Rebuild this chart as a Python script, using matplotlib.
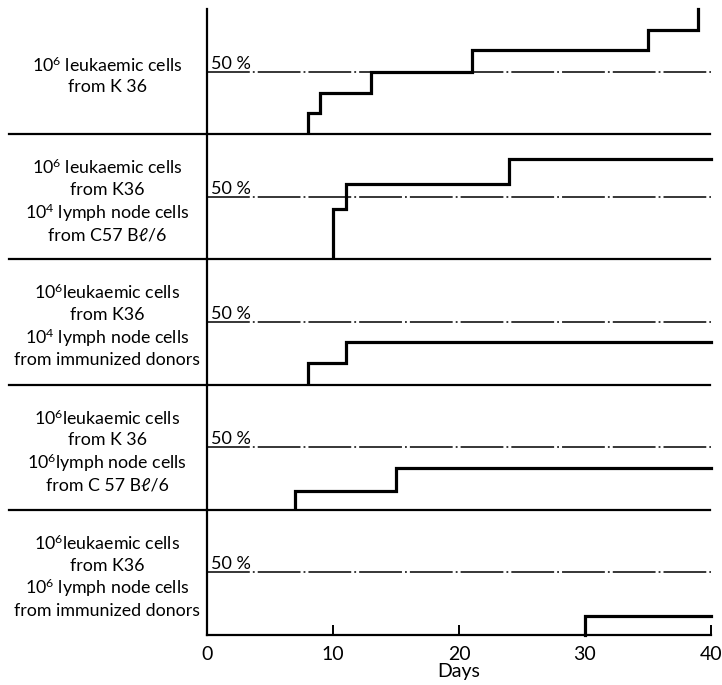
import matplotlib.pyplot as plt
from matplotlib.lines import Line2D

plt.rcParams['font.family'] = ['Lato', 'DejaVu Sans']
plt.rcParams['mathtext.fontset'] = 'custom'
plt.rcParams['mathtext.rm'] = 'Lato'

# cumulative mortality (%) per group, day of each step
groups = [
    ['10$\\mathregular{^6}$ leukaemic cells', 'from K 36'],
    ['10$\\mathregular{^6}$ leukaemic cells', 'from K36',
     '10$\\mathregular{^4}$ lymph node cells', 'from C57 B\u2113/6'],
    ['10$\\mathregular{^6}$leukaemic cells', 'from K36',
     '10$\\mathregular{^4}$ lymph node cells', 'from immunized donors'],
    ['10$\\mathregular{^6}$leukaemic cells', 'from K 36',
     '10$\\mathregular{^6}$lymph node cells', 'from C 57 B\u2113/6'],
    ['10$\\mathregular{^6}$leukaemic cells', 'from K36',
     '10$\\mathregular{^6}$ lymph node cells', 'from immunized donors'],
]
death_days = [
    [8, 9, 13, 21, 35, 39],
    [10, 11, 24],
    [8, 11],
    [7, 15],
    [30],
]
mortality = [
    [17, 33, 50, 67, 83, 100],
    [40, 60, 80],
    [17, 34],
    [15, 33],
    [15],
]
x_ticks = [0, 10, 20, 30, 40]
end_day = 40

W, H = 722, 685
fig = plt.figure(figsize=(W / 100, H / 100), dpi=100)

x0, x1 = 207, 711
top, bottom = 9, 635
ph = (bottom - top) / len(groups)

for i, (lines, days, pct) in enumerate(zip(groups, death_days, mortality)):
    y_top = top + i * ph
    ax = fig.add_axes([x0 / W, 1 - (y_top + ph) / H, (x1 - x0) / W, ph / H])
    ax.set_xlim(0, 40)
    ax.set_ylim(0, 100)
    for s in ['top', 'right', 'bottom']:
        ax.spines[s].set_visible(False)
    ax.spines['left'].set_linewidth(1.6)
    ax.set_yticks([])

    # 50% reference line
    ax.plot([0, 40], [50, 50], color='black', lw=1.1,
            linestyle=(0, (28, 2.0, 1.2, 2.0)))
    ax.text(0.35, 50.0, '50 %', fontsize=13, va='bottom', ha='left')

    # mortality step curve
    xs = [days[0]] + list(days)
    ys = [0] + list(pct)
    if pct[-1] < 100:
        xs.append(end_day)
        ys.append(pct[-1])
    ax.step(xs, ys, where='post', color='black', lw=2.3, clip_on=False,
            solid_joinstyle='miter')

    if i == len(groups) - 1:
        ax.spines['bottom'].set_visible(True)
        ax.spines['bottom'].set_linewidth(1.6)
        ax.set_xticks(x_ticks)
        ax.tick_params(axis='x', length=0, pad=8, labelsize=14)
        # short inward tick marks
        ax.vlines(x_ticks[1:], 0, 8, color='black', lw=1.4, clip_on=False)
        ax.set_xlabel('Days', fontsize=14, labelpad=0)
    else:
        ax.set_xticks([])
        # separator between groups
        yb = y_top + ph
        fig.add_artist(Line2D([9 / W, 710 / W], [1 - yb / H, 1 - yb / H],
                              color='black', lw=1.6))

    # group description
    yc = y_top + ph / 2 + 4.5
    n = len(lines)
    for k, txt in enumerate(lines):
        yy = yc + (k - (n - 1) / 2) * 22.5
        fig.text(107 / W, 1 - yy / H, txt, fontsize=12.8,
                 ha='center', va='center')

fig.savefig('out.png', dpi=100)
